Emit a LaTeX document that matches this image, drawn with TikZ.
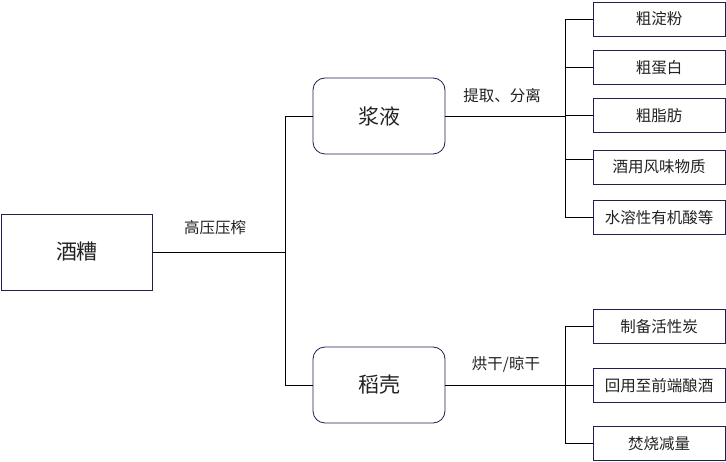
\documentclass[tikz,border=0pt]{standalone}
\usepackage{fontspec}
\setmainfont{Noto Sans CJK SC}
\usetikzlibrary{positioning}
\definecolor{boxline}{HTML}{1F1F4F}
\definecolor{txt}{HTML}{222222}

\begin{document}
\begin{tikzpicture}[x=1pt, y=-1pt, line width=0.8pt, text=txt, font=\fontsize{15.5}{18}\selectfont,
	mainbox/.style={rectangle, draw=boxline, minimum width=151pt, minimum height=76pt, font=\fontsize{21}{25}\selectfont},
	midbox/.style={rectangle, rounded corners=12pt, draw=boxline, minimum width=132pt, minimum height=76pt, font=\fontsize{21}{25}\selectfont},
	leafbox/.style={rectangle, draw=boxline, minimum width=132pt, minimum height=34pt, align=center}]
		\useasboundingbox (0,0) rectangle (726,462);
		% source and the two products
		\node[mainbox] (jiuzao) at (77,252) {酒糟};
		\node[midbox] (jiangye) at (379,116) {浆液};
		\node[midbox] (daoke) at (379,385) {稻壳};
		% what the liquid gives
		\node[leafbox] (dianfen) at (659,19) {粗淀粉};
		\node[leafbox] (danbai) at (659,67.5) {粗蛋白};
		\node[leafbox] (zhifang) at (659,115.5) {粗脂肪};
		\node[leafbox] (fengwei) at (659,167) {酒用风味物质};
		\node[leafbox] (suanlei) at (659,217.5) {水溶性有机酸等};
		% what the husk gives
		\node[leafbox] (tanhua) at (659,326.5) {制备活性炭};
		\node[leafbox] (huiyong) at (659,385.5) {回用至前端酿酒};
		\node[leafbox] (fenshao) at (659,443.5) {焚烧减量};
		% branch points
		\coordinate (split) at (285,252);
		\coordinate (fork1) at (565,116);
		\coordinate (fork2) at (565,385);
		\draw (jiuzao.east) -- (split);
		\draw (split) |- (jiangye.west);
		\draw (split) |- (daoke.west);
		\draw (jiangye.east) -- (fork1);
		\draw (daoke.east) -- (fork2);
		\foreach \leaf in {dianfen, danbai, zhifang, suanlei}
			\draw (fork1) |- (\leaf.west);
		\draw (fork1) |- ([yshift=8pt]fengwei.west);
		\foreach \leaf in {tanhua, huiyong, fenshao}
			\draw (fork2) |- (\leaf.west);
		% step labels
		\node (yazha) at (215,228) {高压压榨};
		\node (tiqu) at (502,96) {提取、分离};
		\node (honggan) at (506,364) {烘干/晾干};
	\end{tikzpicture}
\end{document}
